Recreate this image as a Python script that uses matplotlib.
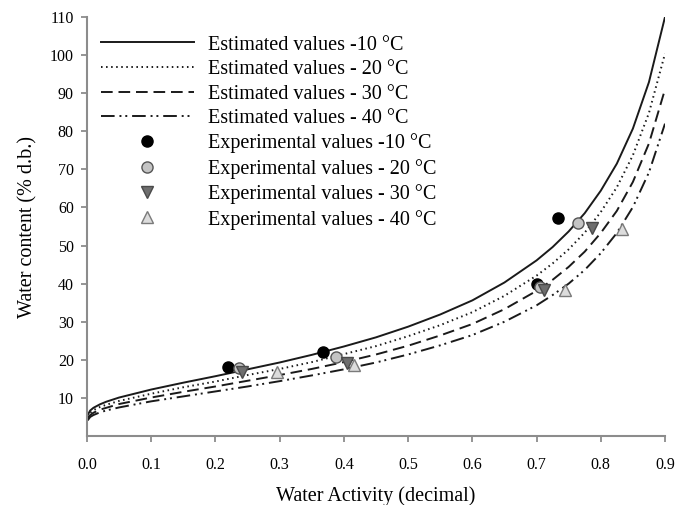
import matplotlib
matplotlib.use("Agg")
import matplotlib.pyplot as plt

plt.rcParams['font.family'] = ['Liberation Serif', 'DejaVu Serif']

aw = [0.001, 0.005, 0.01, 0.02, 0.03, 0.05, 0.1, 0.15, 0.2, 0.25, 0.3, 0.35, 0.4, 0.45,
      0.5, 0.55, 0.6, 0.65, 0.7, 0.725, 0.75, 0.775, 0.8, 0.825, 0.85, 0.875, 0.9]
est_10 = [5.5, 6.7, 7.4, 8.3, 9.0, 10.1, 12.2, 14.0, 15.7, 17.5, 19.3, 21.3, 23.5, 25.9,
          28.7, 31.9, 35.6, 40.3, 46.1, 49.6, 53.7, 58.5, 64.4, 71.5, 80.7, 92.9, 110.0]
est_20 = [5.0, 6.1, 6.8, 7.6, 8.2, 9.2, 11.1, 12.8, 14.3, 16.0, 17.6, 19.4, 21.5, 23.6,
          26.2, 29.1, 32.5, 36.8, 42.1, 45.3, 49.0, 53.4, 58.8, 65.3, 73.7, 84.8, 100.4]
est_30 = [4.5, 5.5, 6.1, 6.9, 7.4, 8.4, 10.1, 11.6, 13.0, 14.5, 16.0, 17.6, 19.4, 21.4,
          23.7, 26.4, 29.4, 33.3, 38.1, 41.0, 44.4, 48.4, 53.3, 59.1, 66.7, 76.8, 91.0]
est_40 = [4.1, 5.0, 5.5, 6.2, 6.7, 7.5, 9.1, 10.4, 11.7, 13.0, 14.4, 15.9, 17.5, 19.3,
          21.4, 23.8, 26.5, 30.0, 34.3, 37.0, 40.0, 43.6, 48.0, 53.3, 60.1, 69.2, 82.0]

exp10_aw = [0.220, 0.368, 0.700, 0.733]
exp10_m = [18.0, 22.0, 39.8, 57.3]
exp20_aw = [0.236, 0.388, 0.706, 0.764]
exp20_m = [17.8, 20.8, 39.0, 55.8]
exp30_aw = [0.241, 0.405, 0.712, 0.786]
exp30_m = [16.9, 19.1, 38.2, 54.5]
exp40_aw = [0.296, 0.416, 0.745, 0.833]
exp40_m = [16.8, 18.6, 38.4, 54.4]

labels = ['Estimated values -10 °C', 'Estimated values - 20 °C',
          'Estimated values - 30 °C', 'Estimated values - 40 °C',
          'Experimental values -10 °C', 'Experimental values - 20 °C',
          'Experimental values - 30 °C', 'Experimental values - 40 °C']

fig = plt.figure(figsize=(6.83, 5.05), dpi=100)
ax = fig.add_axes([87/683, 1-436/505, (665-87)/683, (436-17)/505])

lc = '#1a1a1a'
ax.plot(aw, est_10, color=lc, lw=1.4, ls='-', label=labels[0])
ax.plot(aw, est_20, color=lc, lw=1.4, ls=(0, (0.8, 1.8)), label=labels[1])
ax.plot(aw, est_30, color=lc, lw=1.4, ls=(0, (6, 3)), label=labels[2])
ax.plot(aw, est_40, color=lc, lw=1.4, ls=(0, (7, 2.5, 1, 2, 1, 2.5)), label=labels[3])

ms = 8
ax.plot(exp10_aw, exp10_m, ls='none', marker='o', ms=ms, mfc='black', mec='black', label=labels[4])
ax.plot(exp20_aw, exp20_m, ls='none', marker='o', ms=ms, mfc='#c4c4c4', mec='#555555', mew=1.0, label=labels[5])
ax.plot(exp30_aw, exp30_m, ls='none', marker='v', ms=ms, mfc='#6e6e6e', mec='#4a4a4a', mew=1.0, label=labels[6])
ax.plot(exp40_aw, exp40_m, ls='none', marker='^', ms=ms, mfc='#dcdcdc', mec='#7a7a7a', mew=1.0, label=labels[7])

ax.set_xlim(0, 0.9)
ax.set_ylim(0, 110)
ax.set_xticks([i/10 for i in range(10)])
ax.set_xticklabels([f'{i/10:.1f}' for i in range(10)])
ax.set_yticks(list(range(10, 111, 10)))

for s in ['top', 'right']:
    ax.spines[s].set_visible(False)
for s in ['left', 'bottom']:
    ax.spines[s].set_color('#8c8c8c')
    ax.spines[s].set_linewidth(1.5)
ax.tick_params(axis='both', direction='out', length=4, width=1.3, color='#8c8c8c',
               labelsize=11.5, labelcolor='black')
ax.tick_params(axis='x', pad=11)
ax.tick_params(axis='y', pad=5.5)

ax.set_xlabel('Water Activity (decimal)', fontsize=14.5, labelpad=10)
ax.set_ylabel('Water content (% d.b.)', fontsize=14.5, labelpad=9)

leg = ax.legend(loc='upper left', bbox_to_anchor=(0.007, 0.98), frameon=False,
                fontsize=14.5, handlelength=4.6, handletextpad=0.7,
                labelspacing=0.27, borderaxespad=0.3, borderpad=0.2)

fig.savefig('out.png', dpi=100)
